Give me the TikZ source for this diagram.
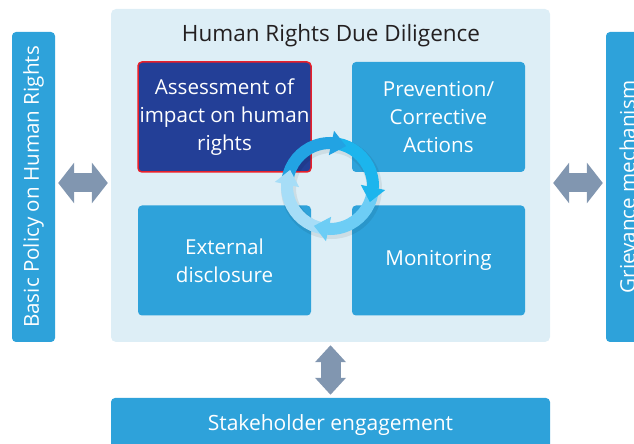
\documentclass[tikz,border=0pt]{standalone}
\usepackage{fontspec}
\setmainfont{Open Sans}
\usetikzlibrary{arrows.meta,bending,calc}
\definecolor{panelc}{HTML}{DDEEF6}
\definecolor{boxc}{HTML}{2EA2DA}
\definecolor{darkc}{HTML}{233F97}
\definecolor{redc}{HTML}{E8202A}
\definecolor{arrc}{HTML}{8196B0}
\definecolor{titlec}{HTML}{231F20}
\definecolor{ringa}{HTML}{22A3E3}
\definecolor{ringb}{HTML}{1CB5ED}
\definecolor{ringc}{HTML}{6DCDF5}
\definecolor{ringd}{HTML}{A6DDF7}
\tikzset{
  txt/.style={font=\fontsize{20.6}{28}\selectfont, text=white, align=center},
  panelbox/.style={fill=panelc, rounded corners=5pt, inner sep=0pt, minimum width=439pt, minimum height=333pt},
  stepbox/.style={fill=boxc, rounded corners=4pt, inner sep=0pt, minimum width=173pt, minimum height=110pt, txt},
  sidebar/.style={fill=boxc, rounded corners=4pt, inner sep=0pt, minimum width=310pt, minimum height=43pt, rotate=90, txt},
  dblarrow/.style={draw=arrc, line width=19pt, {Triangle[width=40pt,length=16pt]}-{Triangle[width=40pt,length=16pt]}, shorten <=3pt, shorten >=3pt},
  vdblarrow/.style={draw=arrc, line width=20pt, {Triangle[width=30pt,length=17pt]}-{Triangle[width=30pt,length=17pt]}, shorten <=3pt, shorten >=3pt},
  ring/.style={line width=12pt},
  ringtip/.style={line width=12pt, -{Triangle[width=24pt,length=15pt,flex]}},
}
\begin{document}
\begin{tikzpicture}[x=1pt,y=1pt]
\useasboundingbox (0,0) rectangle (634,444);
\node[panelbox] (panel) at (330.5,268.5) {};
\node[font=\fontsize{22.5}{26}\selectfont, text=titlec] (title) at (331,408) {Human Rights Due Diligence};
\node[stepbox, fill=darkc, draw=redc, line width=1.5pt] (assess) at (224.5,327) {Assessment of\\impact on human\\rights};
\node[stepbox] (prev) at (438.5,327) {Prevention/\\Corrective\\Actions};
\node[stepbox] (ext) at (224.5,183.5) {External\\disclosure};
\node[stepbox] (mon) at (438.5,183.5) {Monitoring};
\node[sidebar] (leftbar) at (33.5,257) {Basic Policy on Human Rights};
\node[sidebar] (rightbar) at (627.5,257) {Grievance mechanism};
\node[fill=boxc, rounded corners=4pt, inner sep=0pt, minimum width=439pt, minimum height=54pt, txt, font=\fontsize{21}{28}\selectfont] (bottombar) at (330.5,19) {Stakeholder engagement};
% connectors
\coordinate (la) at ($(leftbar.south)+(0,4)$);
\draw[dblarrow] (la) -- (la -| panel.west);
\coordinate (ra) at ($(rightbar.north)+(0,4)$);
\draw[dblarrow] (panel.east |- ra) -- (ra);
\draw[vdblarrow] (panel.south) -- (panel.south |- bottombar.north);
% cycle ring
\coordinate (c) at (330,258);
\draw[line width=15pt, black, opacity=0.07] ($(c)+(1.5,-2.5)$) circle[radius=43pt];
\draw[ring, ringa] ($(c)+(178:43)$) arc[start angle=178, end angle=86, radius=43pt];
\draw[ring, ringb] ($(c)+(88:43)$) arc[start angle=88, end angle=-4, radius=43pt];
\draw[ring, ringc] ($(c)+(-2:43)$) arc[start angle=-2, end angle=-94, radius=43pt];
\draw[ring, ringd] ($(c)+(-92:43)$) arc[start angle=-92, end angle=-184, radius=43pt];
\draw[ringtip, ringa] ($(c)+(90:43)$) arc[start angle=90, end angle=68, radius=43pt];
\draw[ringtip, ringb] ($(c)+(0:43)$) arc[start angle=0, end angle=-22, radius=43pt];
\draw[ringtip, ringc] ($(c)+(-90:43)$) arc[start angle=-90, end angle=-112, radius=43pt];
\draw[ringtip, ringd] ($(c)+(180:43)$) arc[start angle=180, end angle=158, radius=43pt];
\end{tikzpicture}
\end{document}
